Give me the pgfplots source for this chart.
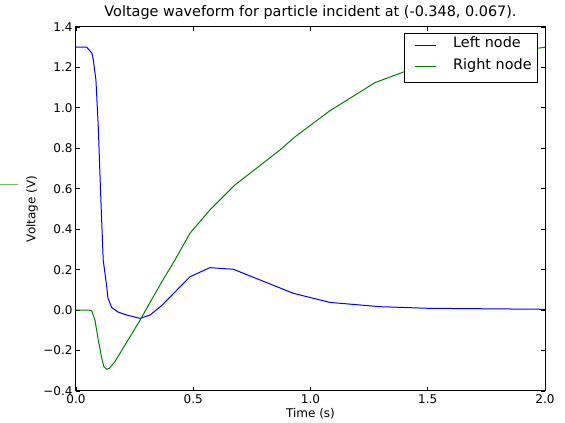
\documentclass[border=0pt]{standalone}
\usepackage{pgfplots}
\pgfplotsset{compat=1.18}
\usepackage{fontspec}
\setmainfont{DejaVu Sans}
\definecolor{mplgreen}{rgb}{0,0.5,0}
\definecolor{stubgreen}{rgb}{0.47,0.74,0.35}
\begin{document}
\begin{tikzpicture}
\useasboundingbox (0,0) rectangle (565pt,423pt);
\draw[stubgreen, line width=1pt] (0pt,238.5pt) -- (18pt,238.5pt);
\begin{axis}[
  at={(76pt,32pt)}, anchor=south west,
  scale only axis, width=469pt, height=364pt,
  xmin=0, xmax=2, ymin=-0.4, ymax=1.4,
  xtick={0,0.5,1,1.5,2},
  xticklabels={0.0,0.5,1.0,1.5,2.0},
  ytick={-0.4,-0.2,0,0.2,0.4,0.6,0.8,1.0,1.2,1.4},
  yticklabels={−0.4,−0.2,0.0,0.2,0.4,0.6,0.8,1.0,1.2,1.4},
  tick align=inside, tick pos=both,
  major tick length=4pt,
  minor tick num=0,
  scaled ticks=false,
  tick label style={font=\fontsize{12}{14}\selectfont},
  label style={font=\fontsize{12}{14}\selectfont},
  title style={font=\fontsize{14.4}{17}\selectfont, yshift=-2pt},
  title={Voltage waveform for particle incident at (-0.348, 0.067).},
  xlabel={Time (s)},
  ylabel={Voltage (V)},
  xlabel style={at={(axis description cs:0.5,-0.063)}, anchor=center},
  ylabel style={at={(axis description cs:-0.0937,0.5)}, anchor=center},
  axis line style={line width=1pt},
  every tick/.style={black, line width=0.8pt},
  clip=true,
]
\addplot[blue, line width=1pt] coordinates {
(0,1.3) (0.046,1.3) (0.068,1.27) (0.074,1.237) (0.085,1.138) (0.095,0.907)
(0.105,0.579) (0.116,0.248) (0.131,0.117) (0.136,0.06) (0.152,0.013)
(0.180,-0.01) (0.216,-0.024) (0.273,-0.041) (0.316,-0.024) (0.365,0.022)
(0.486,0.165) (0.571,0.21) (0.671,0.202) (0.927,0.083) (1.083,0.038)
(1.296,0.017) (1.5,0.009) (2.0,0.004)
};
\addplot[mplgreen, line width=1pt] coordinates {
(0,0.0) (0.055,0.0) (0.067,-0.003) (0.081,-0.05) (0.095,-0.148) (0.110,-0.238)
(0.119,-0.28) (0.131,-0.293) (0.142,-0.288) (0.166,-0.255) (0.273,-0.05)
(0.358,0.124) (0.422,0.248) (0.486,0.38) (0.571,0.495) (0.678,0.619)
(0.870,0.792) (0.934,0.857) (1.083,0.986) (1.275,1.125) (1.403,1.18)
(1.51,1.22) (2.0,1.30)
};
% legend box
\draw[black, fill=white, line width=0.8pt] (axis description cs:0.6994,0.8489) rectangle (axis description cs:0.9829,0.9835);
\draw[blue, line width=1pt] (axis description cs:0.7228,0.9505) -- (axis description cs:0.7676,0.9505);
\draw[mplgreen, line width=1pt] (axis description cs:0.7228,0.8909) -- (axis description cs:0.7676,0.8909);
\node[anchor=mid west, inner sep=0pt, font=\fontsize{14.4}{17}\selectfont] at (axis description cs:0.8038,0.9505) {Left node};
\node[anchor=mid west, inner sep=0pt, font=\fontsize{14.4}{17}\selectfont] at (axis description cs:0.8038,0.8909) {Right node};
\node[anchor=east, font=\fontsize{12}{14}\selectfont, inner sep=0pt] at (axis description cs:1,-0.058) {1e−10};
\end{axis}
\end{tikzpicture}
\end{document}
